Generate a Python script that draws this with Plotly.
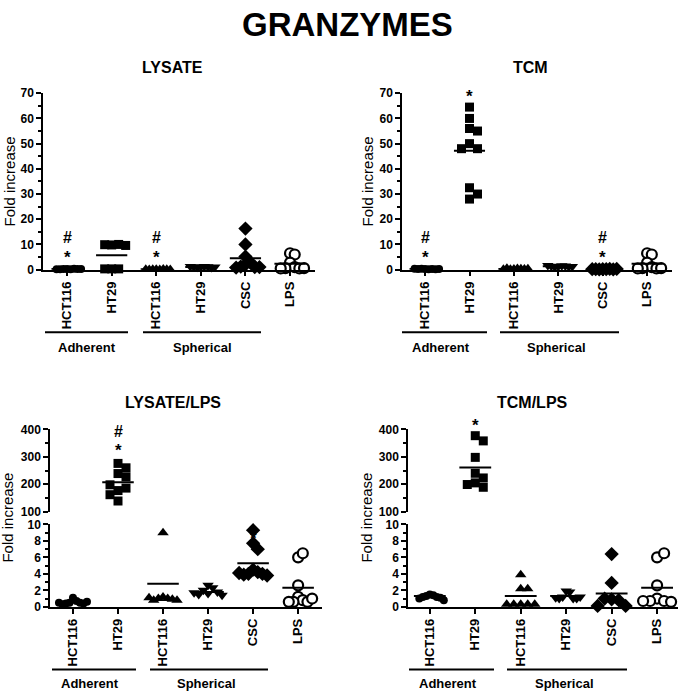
import math
import plotly.graph_objects as go

W, H = 685, 700
FONT = "Liberation Sans, Arial, Helvetica, sans-serif"

# ---------------- data ----------------
main_title = "GRANZYMES"
panel_titles = ["LYSATE", "TCM", "LYSATE/LPS", "TCM/LPS"]
categories = ["HCT116", "HT29", "HCT116", "HT29", "CSC", "LPS"]
group_labels = ["Adherent", "Spherical"]
y_title = "Fold increase"

# LYSATE
lysate_hct116_adh = [0.3, 0.2, 0.3, 0.4, 0.2, 0.3, 0.2, 0.3]
lysate_ht29_adh = [9.8, 10.0, 9.9, 9.6, 0.3, 0.3, 0.3]
lysate_hct116_sph = [0.2, 0.1, 0.2, 0.3, 0.1, 0.2, 0.2, 0.1]
lysate_ht29_sph = [1.0, 1.2, 0.9, 1.1, 1.0, 0.8, 1.2, 1.0]
lysate_csc = [16.3, 10.0, 5.2, 3.0, 2.0, 1.2, 1.0, 0.8, 1.0]
lysate_lps = [6.5, 6.0, 2.8, 1.0, 0.6, 0.5, 0.5, 0.6]
lysate_means = [0.3, 5.7, 0.2, 1.0, 4.5, 2.3]

# TCM
tcm_hct116_adh = [0.3, 0.2, 0.4, 0.3, 0.3, 0.2, 0.4, 0.3]
tcm_ht29_adh = [64.5, 60.0, 56.0, 55.0, 50.0, 48.0, 48.0, 32.5, 30.0, 28.0]
tcm_hct116_sph = [0.3, 0.5, 0.2, 0.4, 0.6, 0.3, 0.2, 0.4]
tcm_ht29_sph = [1.2, 1.5, 1.0, 1.4, 1.3, 1.1, 1.6, 1.2]
tcm_csc = [0.2, 0.2, 0.1, 0.3, 0.2, 0.1, 0.2, 0.3]
tcm_lps = [6.5, 6.0, 2.8, 1.0, 0.6, 0.5, 0.5, 0.6]
tcm_means = [0.3, 47.2, 0.3, 1.3, 0.2, 2.3]

# LYSATE/LPS
lysate_lps_hct116_adh = [1.1, 0.7, 0.5, 0.5, 0.4, 0.4, 0.3, 0.6, 0.5]
lysate_lps_ht29_adh = [276, 260, 239, 227, 177, 186, 198, 162, 139]
lysate_lps_hct116_sph = [9.0, 1.2, 1.0, 1.0, 0.9, 0.8, 0.8, 1.1]
lysate_lps_ht29_sph = [2.6, 2.3, 2.0, 1.8, 1.6, 1.5, 1.4, 1.7]
lysate_lps_csc = [9.3, 7.7, 7.0, 4.5, 4.2, 4.0, 4.0, 3.9, 3.8, 4.1]
lysate_lps_lps = [6.0, 6.5, 2.6, 1.2, 0.8, 0.6, 0.6, 0.6, 1.0]
lysate_lps_means = [0.55, 207, 2.8, 1.8, 5.3, 2.3]

# TCM/LPS
tcm_lps_hct116_adh = [1.5, 1.4, 1.3, 1.2, 1.2, 1.1, 1.0, 0.8]
tcm_lps_ht29_adh = [377, 358, 298, 240, 205, 223, 199, 189]
tcm_lps_hct116_sph = [3.9, 2.2, 2.2, 0.3, 0.3, 0.3, 0.3, 0.3]
tcm_lps_ht29_sph = [1.9, 1.8, 1.2, 1.0, 1.0, 1.0, 1.1, 1.2]
tcm_lps_csc = [6.4, 2.9, 0.9, 0.8, 1.0, 0.1, 0.1]
tcm_lps_lps = [6.0, 6.5, 2.6, 1.0, 0.7, 0.7, 0.6, 0.7]
tcm_lps_means = [1.3, 261, 1.3, 1.3, 1.6, 2.3]

# significance marks: (category index, symbol, value)
lysate_marks = [(0, "*", 6.1), (0, "#", 12.7), (2, "*", 6.1), (2, "#", 12.7)]
tcm_marks = [(0, "*", 6.1), (0, "#", 12.7), (1, "*", 70.0), (4, "*", 6.1), (4, "#", 12.7)]
lysate_lps_marks = [(1, "*", 334), (1, "#", 394), (4, "*", 11.5)]
tcm_lps_marks = [(1, "*", 424)]

# ---------------- layout geometry (pixels) ----------------
def px(x):
    return x / W

def py(y):
    return 1 - y / H

SYMBOLS = ["circle", "square", "triangle-up", "triangle-down", "diamond", "circle"]
FILLS = ["black", "black", "black", "black", "black", "white"]
LINEW = [0, 0, 0, 0, 0, 2.2]
SIZES = [8, 9, 10, 10, 11, 10]

single = lambda: [dict(top=88, bot=268, rng=[0, 70], dtick=10, minor=5)]
broken = lambda: [dict(top=528, bot=612, rng=[0, 10], dtick=2, minor=1),
                  dict(top=431, bot=515, rng=[100, 400], dtick=100, minor=50)]

panels = [
    dict(x0=43, x1=315, xr=[-0.54, 5.56], segs=single(), title_xy=(172, 62),
         ytitle_xy=(9, 178), brackets=[(45, 128, 87), (143, 261, 202)], br_y=332, lab_y=347,
         data=[lysate_hct116_adh, lysate_ht29_adh, lysate_hct116_sph, lysate_ht29_sph, lysate_csc, lysate_lps],
         means=lysate_means, marks=lysate_marks),
    dict(x0=402, x1=672, xr=[-0.52, 5.56], segs=single(), title_xy=(530, 62),
         ytitle_xy=(367, 178), brackets=[(402, 487, 441), (500, 619, 556)], br_y=332, lab_y=347,
         data=[tcm_hct116_adh, tcm_ht29_adh, tcm_hct116_sph, tcm_ht29_sph, tcm_csc, tcm_lps],
         means=tcm_means, marks=tcm_marks),
    dict(x0=50, x1=322, xr=[-0.51, 5.53], segs=broken(), title_xy=(173, 404),
         ytitle_xy=(8, 521), brackets=[(52, 136, 90), (150, 268, 206)], br_y=676, lab_y=690,
         data=[lysate_lps_hct116_adh, lysate_lps_ht29_adh, lysate_lps_hct116_sph, lysate_lps_ht29_sph,
               lysate_lps_csc, lysate_lps_lps],
         means=lysate_lps_means, marks=lysate_lps_marks),
    dict(x0=408, x1=678, xr=[-0.48, 5.46], segs=broken(), title_xy=(532, 404),
         ytitle_xy=(367, 521), brackets=[(409, 494, 448), (507, 627, 564)], br_y=676, lab_y=690,
         data=[tcm_lps_hct116_adh, tcm_lps_ht29_adh, tcm_lps_hct116_sph, tcm_lps_ht29_sph,
               tcm_lps_csc, tcm_lps_lps],
         means=tcm_lps_means, marks=tcm_lps_marks),
]


def seg_for(p, v):
    segs = p["segs"]
    if len(segs) == 1:
        return 0
    return 1 if v > segs[0]["rng"][1] else 0


def ypix(p, v):
    s = p["segs"][seg_for(p, v)]
    r0, r1 = s["rng"]
    return s["bot"] - (v - r0) / (r1 - r0) * (s["bot"] - s["top"])


def x_per_px(p):
    return (p["xr"][1] - p["xr"][0]) / (p["x1"] - p["x0"])


def swarm(p, vals, step=8.0, cd=8.0, maxw=14.0):
    placed = []
    offs = []
    for v in vals:
        yp = ypix(p, v)
        k = 0
        while True:
            n = (k + 1) // 2
            o = n * step * (1 if k % 2 == 1 else -1) if k > 0 else 0.0
            ok = all(math.hypot(o - a, yp - b) >= cd for a, b in placed)
            if ok:
                break
            k += 1
        placed.append((o, yp))
        offs.append(o)
    m = max([abs(o) for o in offs] + [1e-9])
    if m > maxw:
        offs = [o * maxw / m for o in offs]
    return offs


fig = go.Figure()
layout = dict(
    width=W, height=H, margin=dict(l=0, r=0, t=0, b=0),
    paper_bgcolor="white", plot_bgcolor="white", showlegend=False,
    font=dict(family=FONT, color="black"),
)
annotations = []
shapes = []

axis_common = dict(showgrid=False, zeroline=False, showline=True, linecolor="black", linewidth=1.5,
                   ticks="outside", tickcolor="black", tickwidth=1.5, fixedrange=True)

yax_counter = 5
for pi, p in enumerate(panels):
    xn = pi + 1
    xname = "x" if xn == 1 else f"x{xn}"
    xkey = "xaxis" if xn == 1 else f"xaxis{xn}"
    seg_names = []
    for si, s in enumerate(p["segs"]):
        if si == 0:
            yn = pi + 1
        else:
            yn = yax_counter
            yax_counter += 1
        yname = "y" if yn == 1 else f"y{yn}"
        ykey = "yaxis" if yn == 1 else f"yaxis{yn}"
        seg_names.append(yname)
        layout[ykey] = dict(
            axis_common, domain=[py(s["bot"]), py(s["top"])], range=s["rng"], anchor=xname,
            tick0=0, dtick=s["dtick"], ticklen=5,
            minor=dict(ticks="outside", dtick=s["minor"], ticklen=3, tickwidth=1.5, tickcolor="black"),
            tickfont=dict(family=FONT, size=12, color="black", weight="bold"),
        )
    layout[xkey] = dict(
        axis_common, domain=[px(p["x0"]), px(p["x1"])], range=p["xr"], anchor=seg_names[0],
        tickmode="array", tickvals=list(range(len(categories))), ticktext=categories,
        tickangle=-90, ticklen=5,
        tickfont=dict(family=FONT, size=13, color="black", weight="bold"),
    )

    xpp = x_per_px(p)
    # points
    for ci, vals in enumerate(p["data"]):
        offs = swarm(p, vals)
        by_seg = {}
        for v, o in zip(vals, offs):
            by_seg.setdefault(seg_for(p, v), []).append((ci + o * xpp, v))
        for si, pts in by_seg.items():
            fig.add_trace(go.Scatter(
                x=[a for a, _ in pts], y=[b for _, b in pts], mode="markers",
                xaxis=xname, yaxis=seg_names[si], cliponaxis=False, hoverinfo="skip",
                marker=dict(symbol=SYMBOLS[ci], size=SIZES[ci], color=FILLS[ci],
                            line=dict(color="black", width=LINEW[ci])),
            ))
    # mean lines
    for ci, m in enumerate(p["means"]):
        fig.add_trace(go.Scatter(
            x=[ci - 0.35, ci + 0.35], y=[m, m], mode="lines", xaxis=xname,
            yaxis=seg_names[seg_for(p, m)], cliponaxis=False, hoverinfo="skip",
            line=dict(color="black", width=2),
        ))
    # significance marks
    for ci, sym, v in p["marks"]:
        yp = ypix(p, v) + (3 if sym == "*" else 0)
        annotations.append(dict(
            x=ci, xref=xname, y=py(yp), yref="paper", text=sym, showarrow=False,
            xanchor="center", yanchor="middle",
            font=dict(family=FONT, size=17 if sym == "*" else 16, color="black", weight="bold"),
        ))
    # titles
    tx, ty = p["title_xy"]
    annotations.append(dict(x=px(tx), y=py(ty), xref="paper", yref="paper", text=panel_titles[pi],
                            showarrow=False, xanchor="center", yanchor="middle",
                            font=dict(family=FONT, size=16, color="black", weight="bold")))
    yx, yy = p["ytitle_xy"]
    annotations.append(dict(x=px(yx), y=py(yy), xref="paper", yref="paper", text=y_title,
                            showarrow=False, xanchor="center", yanchor="middle", textangle=-90,
                            font=dict(family=FONT, size=15, color="black")))
    # group brackets
    for gi, (bx0, bx1, lx) in enumerate(p["brackets"]):
        shapes.append(dict(type="line", xref="paper", yref="paper", x0=px(bx0), x1=px(bx1),
                           y0=py(p["br_y"]), y1=py(p["br_y"]), line=dict(color="black", width=2)))
        annotations.append(dict(x=px(lx), y=py(p["lab_y"]), xref="paper", yref="paper",
                                text=group_labels[gi], showarrow=False, xanchor="center",
                                yanchor="middle",
                                font=dict(family=FONT, size=13, color="black", weight="bold")))

annotations.append(dict(x=px(347), y=py(18), xref="paper", yref="paper", text=main_title,
                        showarrow=False, xanchor="center", yanchor="middle",
                        font=dict(family=FONT, size=33, color="black", weight="bold")))

layout["annotations"] = annotations
layout["shapes"] = shapes
fig.update_layout(**layout)
fig.write_html("out.html", config={"displayModeBar": False},
               post_script="document.body.style.margin='0';document.body.style.padding='0';")
